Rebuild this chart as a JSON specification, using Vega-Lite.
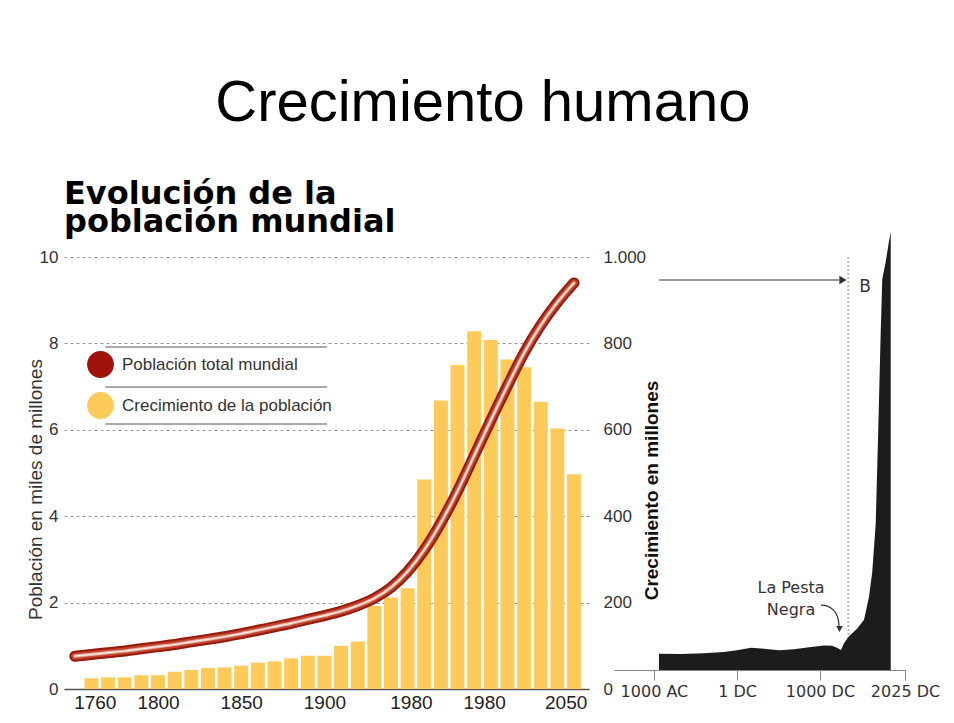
{
  "$schema": "https://vega.github.io/schema/vega-lite/v6.json",
  "background": "white",
  "padding": {"left": 25, "top": 75, "right": 5, "bottom": 5},
  "config": {
    "locale": {"number": {"decimal": ",", "thousands": ".", "grouping": [3], "currency": ["", " €"]}},
    "view": {"stroke": null},
    "font": "Liberation Sans"
  },
  "title": {"text": "Crecimiento humano", "fontSize": 58, "font": "Liberation Sans", "fontWeight": "normal", "color": "#000000", "anchor": "middle", "offset": 45},
  "bounds": "flush",
  "spacing": 25,
  "datasets": {
    "poblacion": [
      {"anio": 1750, "poblacion": 0.76, "crecimiento": null},
      {"anio": 1760, "poblacion": 0.80, "crecimiento": 25},
      {"anio": 1770, "poblacion": 0.84, "crecimiento": 27},
      {"anio": 1780, "poblacion": 0.88, "crecimiento": 27},
      {"anio": 1790, "poblacion": 0.93, "crecimiento": 32},
      {"anio": 1800, "poblacion": 0.98, "crecimiento": 32},
      {"anio": 1810, "poblacion": 1.03, "crecimiento": 40},
      {"anio": 1820, "poblacion": 1.09, "crecimiento": 44},
      {"anio": 1830, "poblacion": 1.15, "crecimiento": 49},
      {"anio": 1840, "poblacion": 1.21, "crecimiento": 50},
      {"anio": 1850, "poblacion": 1.28, "crecimiento": 54},
      {"anio": 1860, "poblacion": 1.36, "crecimiento": 61},
      {"anio": 1870, "poblacion": 1.44, "crecimiento": 64},
      {"anio": 1880, "poblacion": 1.52, "crecimiento": 71},
      {"anio": 1890, "poblacion": 1.61, "crecimiento": 77},
      {"anio": 1900, "poblacion": 1.70, "crecimiento": 77},
      {"anio": 1910, "poblacion": 1.80, "crecimiento": 100},
      {"anio": 1920, "poblacion": 1.93, "crecimiento": 110},
      {"anio": 1930, "poblacion": 2.10, "crecimiento": 192},
      {"anio": 1940, "poblacion": 2.35, "crecimiento": 212},
      {"anio": 1950, "poblacion": 2.72, "crecimiento": 233},
      {"anio": 1960, "poblacion": 3.22, "crecimiento": 485},
      {"anio": 1970, "poblacion": 3.85, "crecimiento": 668},
      {"anio": 1980, "poblacion": 4.58, "crecimiento": 750},
      {"anio": 1990, "poblacion": 5.40, "crecimiento": 828},
      {"anio": 2000, "poblacion": 6.22, "crecimiento": 808},
      {"anio": 2010, "poblacion": 7.02, "crecimiento": 763},
      {"anio": 2020, "poblacion": 7.78, "crecimiento": 745},
      {"anio": 2030, "poblacion": 8.42, "crecimiento": 665},
      {"anio": 2040, "poblacion": 8.95, "crecimiento": 603},
      {"anio": 2050, "poblacion": 9.40, "crecimiento": 497}
    ],
    "historia": [
      {"anio": -939, "poblacion": 255},
      {"anio": -662, "poblacion": 250},
      {"anio": -397, "poblacion": 262},
      {"anio": -156, "poblacion": 285},
      {"anio": 1, "poblacion": 310},
      {"anio": 170, "poblacion": 350},
      {"anio": 326, "poblacion": 335},
      {"anio": 507, "poblacion": 310},
      {"anio": 688, "poblacion": 325},
      {"anio": 868, "poblacion": 360},
      {"anio": 1049, "poblacion": 385},
      {"anio": 1145, "poblacion": 380},
      {"anio": 1206, "poblacion": 350},
      {"anio": 1254, "poblacion": 315},
      {"anio": 1290, "poblacion": 420},
      {"anio": 1350, "poblacion": 530},
      {"anio": 1447, "poblacion": 650},
      {"anio": 1531, "poblacion": 790},
      {"anio": 1591, "poblacion": 1150},
      {"anio": 1631, "poblacion": 1550},
      {"anio": 1672, "poblacion": 2300},
      {"anio": 1703, "poblacion": 3800},
      {"anio": 1732, "poblacion": 5300},
      {"anio": 1751, "poblacion": 6150},
      {"anio": 1792, "poblacion": 6420},
      {"anio": 1820, "poblacion": 6650},
      {"anio": 1853, "poblacion": 6900}
    ]
  },
  "hconcat": [
    {
      "width": 525,
      "height": 432,
      "title": {"text": ["Evolución de la", "población mundial"], "font": "DejaVu Sans", "fontSize": 32, "fontWeight": "bold", "anchor": "start", "lineHeight": 28, "baseline": "bottom", "offset": -23, "frame": "group", "color": "#000000"},
      "layer": [
        {
          "data": {"name": "poblacion"},
          "mark": {"type": "bar", "width": 14},
          "encoding": {
            "x": {"field": "anio", "type": "quantitative", "scale": {"domain": [1746.5, 2056], "nice": false, "zero": false},
              "axis": {"values": [1762, 1800, 1850, 1900, 1952, 1996, 2045], "format": "d",
                "labelExpr": "datum.value == 1762 ? '1760' : datum.value == 1952 ? '1980' : datum.value == 1996 ? '1980' : datum.value == 2045 ? '2050' : datum.label",
                "title": null, "labelFontSize": 19, "labelColor": "#222222", "labelPadding": 4, "ticks": false, "domain": true, "domainColor": "#555555", "domainWidth": 1.5, "grid": false, "labelFlush": false}},
            "y": {"field": "crecimiento", "type": "quantitative", "scale": {"domain": [0, 1000], "nice": false},
              "axis": {"orient": "right", "title": "Crecimiento en millones", "titleFontSize": 19, "titleFontWeight": "bold", "titleColor": "#111111", "titleAngle": 270, "titleBaseline": "alphabetic", "titleAlign": "center", "titleX": 68, "titleY": 233,
                "values": [0, 200, 400, 600, 800, 1000], "format": ",d", "labelFontSize": 17, "labelColor": "#333333", "labelPadding": 14, "ticks": false, "domain": false, "grid": false}},
            "color": {"datum": "Crecimiento de la población",
              "scale": {"domain": ["Población total mundial", "Crecimiento de la población"], "range": ["#A0130A", "#FECB5B"]},
              "legend": {"orient": "none", "legendX": 23, "legendY": 94, "title": null, "symbolType": "circle", "symbolSize": 720, "symbolStrokeWidth": 0, "symbolOpacity": 1, "labelFontSize": 17, "labelFont": "Liberation Sans", "labelColor": "#333333", "labelOffset": 8, "labelLimit": 0, "rowPadding": 14, "padding": 0}}
          }
        },
        {
          "layer": [
            {"data": {"name": "poblacion"},
              "mark": {"type": "line", "color": "#951A0C", "strokeWidth": 11, "strokeCap": "round", "interpolate": "monotone"},
              "encoding": {
                "x": {"field": "anio", "type": "quantitative"},
                "y": {"field": "poblacion", "type": "quantitative", "scale": {"domain": [0, 10], "nice": false},
                  "axis": {"orient": "left", "title": "Población en miles de millones", "titleFontSize": 19, "titleFontWeight": "normal", "titleColor": "#333333", "titleAngle": 270, "titleBaseline": "alphabetic", "titleAlign": "center", "titleX": -23, "titleY": 232,
                    "values": [0, 2, 4, 6, 8, 10], "labelFontSize": 17, "labelColor": "#333333", "labelPadding": 6, "ticks": false, "domain": false, "grid": true, "gridColor": "#9a9a9a", "gridDash": [3, 3], "gridWidth": 1.2}}}},
            {"data": {"name": "poblacion"},
              "mark": {"type": "line", "color": "#C0432D", "strokeWidth": 7, "strokeCap": "round", "interpolate": "monotone"},
              "encoding": {"x": {"field": "anio", "type": "quantitative"}, "y": {"field": "poblacion", "type": "quantitative"}}},
            {"data": {"name": "poblacion"},
              "mark": {"type": "line", "color": "#E8AE9E", "strokeWidth": 3.2, "strokeCap": "round", "interpolate": "monotone"},
              "encoding": {"x": {"field": "anio", "type": "quantitative"}, "y": {"field": "poblacion", "type": "quantitative"}}},
            {"data": {"name": "poblacion"},
              "mark": {"type": "line", "color": "#FBEAE4", "strokeWidth": 1.2, "strokeCap": "round", "interpolate": "monotone"},
              "encoding": {"x": {"field": "anio", "type": "quantitative"}, "y": {"field": "poblacion", "type": "quantitative"}}},
            {"data": {"values": [{"separador": 1}]}, "mark": {"type": "rule", "color": "#555555", "strokeWidth": 1},
              "encoding": {"x": {"datum": 1768.3, "type": "quantitative"}, "x2": {"datum": 1901.6}, "y": {"datum": 7.917, "type": "quantitative"}}},
            {"data": {"values": [{"separador": 2}]}, "mark": {"type": "rule", "color": "#555555", "strokeWidth": 1},
              "encoding": {"x": {"datum": 1768.3, "type": "quantitative"}, "x2": {"datum": 1901.6}, "y": {"datum": 6.99, "type": "quantitative"}}},
            {"data": {"values": [{"separador": 3}]}, "mark": {"type": "rule", "color": "#555555", "strokeWidth": 1},
              "encoding": {"x": {"datum": 1768.3, "type": "quantitative"}, "x2": {"datum": 1901.6}, "y": {"datum": 6.134, "type": "quantitative"}}}
          ]
        }
      ],
      "resolve": {"scale": {"y": "independent"}}
    },
    {
      "width": 291,
      "height": 413,
      "layer": [
        {"data": {"values": [{}]}, "mark": {"type": "rule", "color": "#b8b8b8", "strokeDash": [2, 2], "strokeWidth": 2},
          "encoding": {"x": {"datum": 1342, "type": "quantitative"}}},
        {
          "data": {"name": "historia"},
          "mark": {"type": "area", "color": "#1c1c1c", "interpolate": "linear"},
          "encoding": {
            "x": {"field": "anio", "type": "quantitative", "scale": {"domain": [-1481, 2025], "nice": false, "zero": false},
              "axis": {"values": [-1000, 1, 1000, 2025], "labelExpr": "datum.value == -1000 ? '1000 AC' : datum.value == 1 ? '1 DC' : datum.value == 1000 ? '1000 DC' : '2025 DC'",
                "title": null, "labelFont": "DejaVu Sans", "labelFontSize": 16, "labelColor": "#333333", "labelPadding": 3, "tickSize": 10, "tickColor": "#888888", "domainColor": "#888888", "domainWidth": 1.2, "grid": false, "labelFlush": false}},
            "y": {"field": "poblacion", "type": "quantitative", "scale": {"domain": [0, 6500], "nice": false}, "axis": null}
          }
        },
        {"data": {"values": [{}]}, "mark": {"type": "rule", "color": "#333333", "strokeWidth": 1.2},
          "encoding": {"x": {"datum": -939}, "x2": {"datum": 1235}, "y": {"datum": 6138}}},
        {"data": {"values": [{}]}, "mark": {"type": "point", "shape": "triangle-right", "filled": true, "color": "#333333", "size": 70, "opacity": 1},
          "encoding": {"x": {"datum": 1278}, "y": {"datum": 6138}}},
        {"data": {"values": [{}]}, "mark": {"type": "text", "text": "B", "font": "DejaVu Sans", "fontSize": 17, "color": "#333333", "align": "center", "baseline": "middle"},
          "encoding": {"x": {"datum": 1543}, "y": {"datum": 6028}}},
        {"data": {"values": [{}]}, "mark": {"type": "text", "text": "La Pesta\nNegra", "lineBreak": "\n", "lineHeight": 22, "font": "DejaVu Sans", "fontSize": 16, "color": "#333333", "align": "center", "baseline": "middle"},
          "encoding": {"x": {"datum": 652}, "y": {"datum": 1290}}},
        {"data": {"values": [{}]}, "mark": {"type": "point", "shape": "M-0.67,-0.96 C0.05,-0.95 0.65,-0.5 0.67,0.6", "filled": false, "color": "#333333", "strokeWidth": 1.2, "size": 729, "opacity": 1},
          "encoding": {"x": {"datum": 1121}, "y": {"datum": 818}}},
        {"data": {"values": [{}]}, "mark": {"type": "point", "shape": "triangle-down", "filled": true, "color": "#333333", "size": 45, "opacity": 1},
          "encoding": {"x": {"datum": 1236}, "y": {"datum": 645}}}
      ]
    }
  ]
}
